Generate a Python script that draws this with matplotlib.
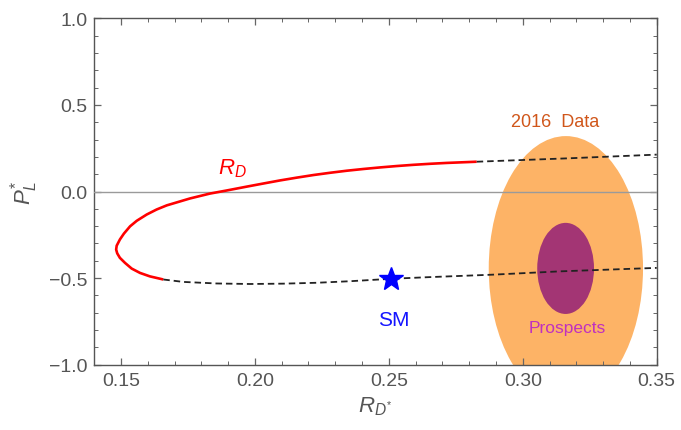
import matplotlib
matplotlib.use("Agg")
import matplotlib.pyplot as plt
from matplotlib.patches import Ellipse
from matplotlib.ticker import MultipleLocator

plt.rcParams['font.family'] = ['Liberation Sans', 'DejaVu Sans']
plt.rcParams['mathtext.fontset'] = 'custom'
plt.rcParams['mathtext.it'] = 'Liberation Sans:italic'
plt.rcParams['mathtext.rm'] = 'Liberation Sans'

# R_D constraint curve (solid red part)
red_x = [0.1658, 0.1608, 0.1571, 0.1540, 0.1515, 0.1496, 0.1486, 0.1482, 0.1484,
         0.1496, 0.1511, 0.1534, 0.1559, 0.1596, 0.1633, 0.1671, 0.1758, 0.1832,
         0.1895, 0.1969, 0.2031, 0.2094, 0.2156, 0.2218, 0.2280, 0.2343, 0.2405,
         0.2467, 0.2529, 0.2591, 0.2654, 0.2716, 0.2828]
red_y = [-0.508, -0.490, -0.470, -0.445, -0.412, -0.383, -0.357, -0.335, -0.313,
         -0.277, -0.243, -0.201, -0.169, -0.133, -0.104, -0.080, -0.040, -0.012,
         0.006, 0.028, 0.046, 0.064, 0.080, 0.095, 0.108, 0.120, 0.130,
         0.139, 0.147, 0.154, 0.160, 0.165, 0.172]
# dashed continuation, upper branch
up_x = [0.2828, 0.3176, 0.3500]
up_y = [0.172, 0.192, 0.213]
# dashed continuation, lower branch
lo_x = [0.1658, 0.1733, 0.1857, 0.1982, 0.2106, 0.2230, 0.2355, 0.2508, 0.2641,
        0.2890, 0.3139, 0.3500]
lo_y = [-0.508, -0.522, -0.531, -0.534, -0.532, -0.527, -0.518, -0.504, -0.495,
        -0.480, -0.461, -0.441]
# Standard Model point
sm_x, sm_y = 0.2508, -0.506
# 2016 data ellipse and prospects ellipse: center, half-widths
data_center = (0.3161, -0.444)
data_half = (0.0288, 0.764)
prosp_center = (0.3160, -0.444)
prosp_half = (0.0106, 0.263)

fig = plt.figure(figsize=(6.81, 4.31), dpi=100)
ax = fig.add_axes([0.1383, 0.1515, 0.8260, 0.8037])

ax.add_patch(Ellipse(data_center, 2 * data_half[0], 2 * data_half[1],
                     facecolor='#FDB366', edgecolor='none', zorder=1))
ax.add_patch(Ellipse(prosp_center, 2 * prosp_half[0], 2 * prosp_half[1],
                     facecolor='#A33574', edgecolor='none', zorder=2))

ax.axhline(0, color='#9a9a9a', lw=1.0, zorder=3)

ax.plot(red_x, red_y, color='#FF0000', lw=1.9, zorder=4, solid_capstyle='butt',
        solid_joinstyle='round')
ax.plot(up_x, up_y, color='#222222', lw=1.3, ls=(0, (3.6, 2.2)), zorder=4)
ax.plot(lo_x, lo_y, color='#222222', lw=1.3, ls=(0, (3.6, 2.2)), zorder=4)
ax.plot([sm_x], [sm_y], marker='*', color='#0000FF', markersize=18, zorder=5,
        linestyle='none')

ax.text(0.1916, 0.139, r'$R_D$', color='#FF0000', fontsize=16, ha='center', va='center')
ax.text(0.3120, 0.405, '2016  Data', color='#D0561A', fontsize=13, ha='center', va='center')
ax.text(0.2518, -0.74, 'SM', color='#1515FF', fontsize=15, ha='center', va='center')
ax.text(0.3165, -0.785, 'Prospects', color='#C030C0', fontsize=12.5, ha='center', va='center')

ax.set_xlim(0.14, 0.35)
ax.set_ylim(-1.0, 1.0)
ax.xaxis.set_major_locator(MultipleLocator(0.05))
ax.xaxis.set_minor_locator(MultipleLocator(0.01))
ax.yaxis.set_major_locator(MultipleLocator(0.5))
ax.yaxis.set_minor_locator(MultipleLocator(0.1))
ax.set_xticks([0.15, 0.20, 0.25, 0.30, 0.35])
ax.set_xticklabels(['0.15', '0.20', '0.25', '0.30', '0.35'])
ax.set_yticks([-1.0, -0.5, 0.0, 0.5, 1.0])
ax.set_yticklabels(['\u22121.0', '\u22120.5', '0.0', '0.5', '1.0'])

for sp in ax.spines.values():
    sp.set_color('#555555')
    sp.set_linewidth(1.0)
ax.tick_params(which='both', direction='in', top=True, right=True,
               color='#666666', labelcolor='#555555', labelsize=14, pad=5)
ax.tick_params(which='major', length=5, width=0.9)
ax.tick_params(which='minor', length=3, width=0.7)

ax.set_xlabel(r'$R_{D^{*}}$', fontsize=16, color='#555555', labelpad=4)
ax.set_ylabel(r'$P_L^{*}$', fontsize=16, color='#555555', labelpad=6)

fig.savefig('out.png', dpi=100)
